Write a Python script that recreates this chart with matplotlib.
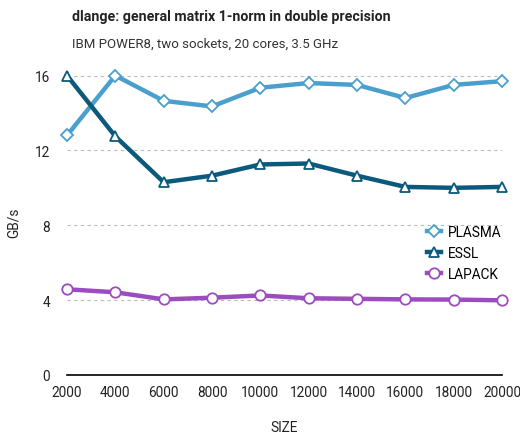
import numpy as np
import matplotlib.pyplot as plt

# matrix sizes
sizes = [2000, 4000, 6000, 8000, 10000, 12000, 14000, 16000, 18000, 20000]

# GB/s
plasma = [12.8, 16.0, 14.65, 14.35, 15.35, 15.6, 15.5, 14.8, 15.5, 15.7]
essl = [16.0, 12.75, 10.3, 10.65, 11.25, 11.3, 10.65, 10.05, 10.0, 10.05]
lapack = [4.58, 4.42, 4.04, 4.13, 4.25, 4.1, 4.07, 4.04, 4.03, 3.99]

yticks = [0, 4, 8, 12, 16]

plt.rcParams['font.family'] = ['Roboto', 'DejaVu Sans']

fig = plt.figure(figsize=(5.2, 4.35), dpi=100)
ax = fig.add_axes([67 / 520, 1 - 376 / 435, (502 - 67) / 520, (376 - 70) / 435])

series = [
    ('PLASMA', plasma, '#4a9fce', 'D', 6),
    ('ESSL', essl, '#0b5a7c', '^', 7),
    ('LAPACK', lapack, '#9a4cc0', 'o', 7.5),
]
for name, vals, col, mk, ms in series:
    ax.plot(sizes, vals, color=col, lw=3.2, marker=mk, ms=ms,
            mfc='white', mec=col, mew=1.3, label=name, clip_on=False, zorder=3)

ax.set_xlim(2000, 20000)
ax.set_ylim(0, 16.35)
ax.set_xticks(sizes)
ax.set_xticklabels([str(s) for s in sizes], fontsize=9.8, color='#222222')
ax.set_yticks(yticks)
ax.set_yticklabels([str(t) for t in yticks], fontsize=9.8, color='#222222')
ax.tick_params(length=0)
ax.tick_params(axis='y', pad=12)
ax.tick_params(axis='x', pad=7)

for s in ['top', 'right', 'left']:
    ax.spines[s].set_visible(False)
ax.spines['bottom'].set_linewidth(1.2)
ax.yaxis.grid(True, ls=(0, (3, 3)), color='#bbbbbb', lw=0.8)
ax.set_axisbelow(True)

ax.set_xlabel('SIZE', fontsize=9.8, labelpad=15, color='#222222')
ax.set_ylabel('GB/s', fontsize=9.8, labelpad=10, color='#222222')

fig.text(72 / 520, 1 - 17 / 435, 'dlange: general matrix 1-norm in double precision',
         fontsize=10.2, fontweight='bold', va='center', color='#222222')
fig.text(72 / 520, 1 - 44 / 435, 'IBM POWER8, two sockets, 20 cores, 3.5 GHz',
         fontsize=9.5, color='#333333', va='center')

ax.legend(loc='upper left', bbox_to_anchor=(0.8, 0.53), frameon=False,
          fontsize=9.8, handlelength=1.0, handletextpad=0.5, labelspacing=0.5)

fig.savefig('out.png', dpi=100)
